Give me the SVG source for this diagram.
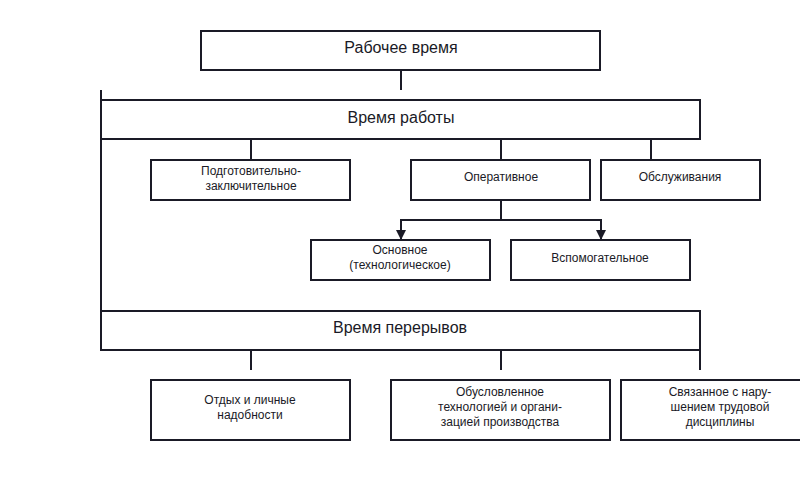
<svg xmlns="http://www.w3.org/2000/svg" width="800" height="500" viewBox="0 0 800 500">
<defs>
<style>
.box{fill:#fff;stroke:#1a1a26;stroke-width:2}
.ln{fill:none;stroke:#1a1a26;stroke-width:2}
.t{font-family:"Liberation Sans",Arial,sans-serif;fill:#1a1a26;text-anchor:middle}
.big{font-size:16px}
.sm{font-size:12px}
</style>
<marker id="arr" markerWidth="11" markerHeight="11" refX="10" refY="5.5" orient="auto" markerUnits="userSpaceOnUse" viewBox="0 0 11 11">
<path d="M0,0.5 L10,5.5 L0,10.5 Z" fill="#1a1a26"/>
</marker>
</defs>
<rect width="800" height="500" fill="#fff"/>
<g id="connectors">
<line class="ln" x1="401" y1="70" x2="401" y2="90"/>
<line class="ln" x1="101" y1="90" x2="101" y2="350"/>
<line class="ln" x1="251" y1="139" x2="251" y2="160"/>
<line class="ln" x1="501" y1="139" x2="501" y2="160"/>
<line class="ln" x1="651" y1="139" x2="651" y2="160"/>
<polyline class="ln" points="501,200 501,220 401,220 401,240" marker-end="url(#arr)"/>
<polyline class="ln" points="501,220 601,220 601,240" marker-end="url(#arr)"/>
<line class="ln" x1="251" y1="350" x2="251" y2="370"/>
<line class="ln" x1="501" y1="350" x2="501" y2="370"/>
<line class="ln" x1="700" y1="350" x2="700" y2="370"/>
</g>
<g id="n-rabochee">
<rect class="box" x="201" y="31" width="399" height="39"/>
<text class="t big" x="401" y="53">Рабочее время</text>
</g>
<g id="n-rabota">
<rect class="box" x="101" y="100" width="599" height="39"/>
<text class="t big" x="401" y="123">Время работы</text>
</g>
<g id="n-podg">
<rect class="box" x="151" y="160" width="199" height="40"/>
<text class="t sm" x="251" y="175">Подготовительно-</text>
<text class="t sm" x="251" y="190">заключительное</text>
</g>
<g id="n-oper">
<rect class="box" x="411" y="160" width="179" height="40"/>
<text class="t sm" x="501" y="181">Оперативное</text>
</g>
<g id="n-obsl">
<rect class="box" x="601" y="160" width="159" height="40"/>
<text class="t sm" x="680" y="181">Обслуживания</text>
</g>
<g id="n-osn">
<rect class="box" x="311" y="240" width="179" height="40"/>
<text class="t sm" x="400" y="254">Основное</text>
<text class="t sm" x="400" y="269">(технологическое)</text>
</g>
<g id="n-vsp">
<rect class="box" x="511" y="240" width="179" height="40"/>
<text class="t sm" x="600" y="262">Вспомогательное</text>
</g>
<g id="n-pereryv">
<rect class="box" x="101" y="311" width="599" height="39"/>
<text class="t big" x="400" y="333">Время перерывов</text>
</g>
<g id="n-otdyh">
<rect class="box" x="151" y="380" width="199" height="60"/>
<text class="t sm" x="250" y="404">Отдых и личные</text>
<text class="t sm" x="250" y="419">надобности</text>
</g>
<g id="n-obusl">
<rect class="box" x="391" y="380" width="219" height="60"/>
<text class="t sm" x="500" y="396">Обусловленное</text>
<text class="t sm" x="500" y="411">технологией и органи-</text>
<text class="t sm" x="500" y="426">зацией производства</text>
</g>
<g id="n-svyaz">
<rect class="box" x="621" y="380" width="190" height="60"/>
<text class="t sm" x="720" y="396">Связанное с нару-</text>
<text class="t sm" x="720" y="411">шением трудовой</text>
<text class="t sm" x="720" y="426">дисциплины</text>
</g>
</svg>
